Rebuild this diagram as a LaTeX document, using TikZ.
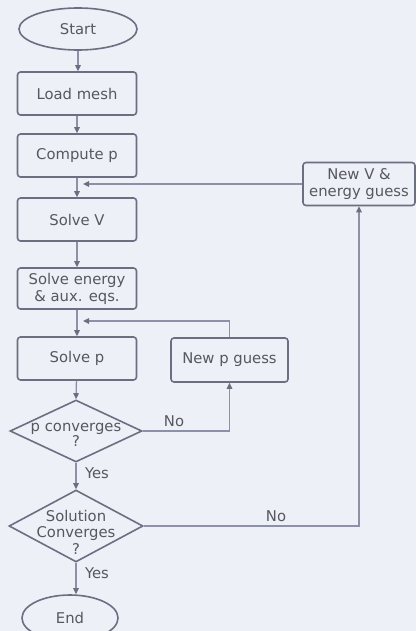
\documentclass[tikz,border=0pt]{standalone}
\usepackage{fontspec}
\setmainfont{DejaVu Sans}
\usetikzlibrary{shapes.geometric,arrows.meta}

\definecolor{paper}{HTML}{EEF0F7}
\definecolor{edge}{HTML}{6B6F82}
\definecolor{wire}{HTML}{8C91A8}
\definecolor{ink}{HTML}{56575F}

\tikzset{
  txt/.style={font=\fontsize{14.8}{17}\selectfont, text=ink, align=center},
  box/.style={txt, draw=edge, line width=1.6pt, rounded corners=3pt, fill=paper,
    minimum width=119pt, minimum height=43pt, inner sep=0pt},
  term/.style={txt, ellipse, draw=edge, line width=1.6pt, fill=paper, inner sep=0pt},
  decision/.style={diamond, draw=edge, line width=1.6pt, fill=paper, inner sep=0pt},
  dtext/.style={txt, font=\fontsize{14.8}{15}\selectfont, inner sep=0pt},
  flow/.style={draw=wire, line width=1.3pt,
    -{Triangle[length=6pt,width=5.5pt,color=edge]}},
  lbl/.style={txt, inner sep=0pt},
}

\begin{document}
\begin{tikzpicture}[x=1pt,y=-1pt]
  % canvas
  \fill[paper] (0,0) rectangle (416,631);
  \useasboundingbox (0,0) rectangle (416,631);

  % main column
  \node[term, minimum width=118pt, minimum height=42pt] (start) at (78,29) {Start};
  \node[box] (load)   at (77,93.5)  {Load mesh};
  \node[box] (comp)   at (77,155.5) {Compute p};
  \node[box] (solveV) at (77,219.5) {Solve V};
  \node[box, minimum height=41pt] (energy) at (77,288.5) {Solve energy\\\& aux. eqs.};
  \node[box] (solvep) at (77,358.5) {Solve p};

  \node[decision, minimum width=132pt, minimum height=62pt] (pconv) at (76,431) {};
  \node[dtext] (pconvtxt) at (76,435) {p converges\\?};

  \node[decision, minimum width=134pt, minimum height=72pt] (solconv) at (76,526) {};
  \node[dtext, font=\fontsize{14.8}{16.5}\selectfont] (solconvtxt) at (76,532)
    {Solution\\Converges\\?};

  \node[term, minimum width=96pt, minimum height=46pt] (end) at (70,618) {End};

  % side boxes
  \node[box, minimum width=117pt, minimum height=44pt] (newp) at (229.5,360) {New p guess};
  \node[box, minimum width=112pt, minimum height=43pt] (newV) at (359,184)
    {New V \&\\energy guess};

  % merge points on the main column
  \coordinate (m1) at (83,184);
  \coordinate (m2) at (83,321);

  % main flow
  \draw[flow] (start) -- (start |- load.north);
  \draw[flow] (load) -- (comp);
  \draw[flow] (comp) -- (solveV);
  \draw[flow] (solveV) -- (energy);
  \draw[flow] (energy) -- (solvep);
  \draw[flow] (solvep) -- (pconv.north);
  \draw[flow] (pconv.south) -- (solconv.north);
  \draw[flow] (solconv.south) -- (solconv.south |- end.north);

  % inner loop
  \draw[flow] (pconv.east) -| (newp.south);
  \draw[flow] (newp.north) |- (m2);

  % outer loop
  \draw[flow] (solconv.east) -| (newV.south);
  \draw[flow] (newV.west) -- (m1);

  % branch labels
  \node[lbl] (no1)  at (174,421) {No};
  \node[lbl] (no2)  at (276,516) {No};
  \node[lbl] (yes1) at (97,473)  {Yes};
  \node[lbl] (yes2) at (97,573)  {Yes};
\end{tikzpicture}
\end{document}
